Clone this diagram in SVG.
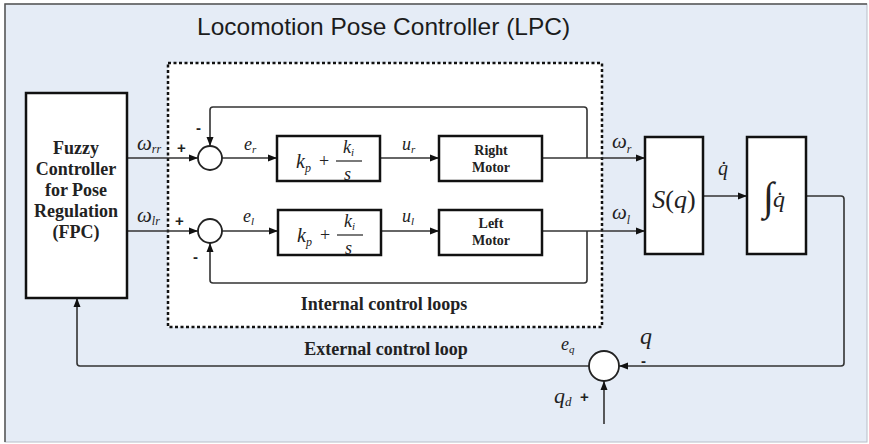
<svg xmlns="http://www.w3.org/2000/svg" width="869" height="444" viewBox="0 0 869 444">
<defs>
<marker id="arr" markerWidth="10" markerHeight="8" refX="9" refY="4" orient="auto" markerUnits="userSpaceOnUse">
<path d="M0,0.5 L9,4 L0,7.5 Z" fill="#111"/>
</marker>
<style>
.blk{fill:#fff;stroke:#111;stroke-width:2.5}
.sum{fill:#fff;stroke:#222;stroke-width:1.8}
.ln{fill:none;stroke:#333;stroke-width:1.6;stroke-linejoin:round}
.title{font-family:"Liberation Sans",Arial,sans-serif;font-size:24.5px;fill:#1c1c1c}
.bt{font-family:"Liberation Serif","Times New Roman",serif;font-weight:bold;fill:#222}
.m{font-family:"Liberation Serif","Times New Roman",serif;font-style:italic;fill:#222}
.r{font-family:"Liberation Serif","Times New Roman",serif;fill:#222}
.sg{font-family:"Liberation Sans",Arial,sans-serif;font-weight:bold;font-size:15px;fill:#222}
</style>
</defs>
<rect x="5" y="4" width="862" height="438" fill="#e5ecf6" stroke="#b8bec8" stroke-width="1"/>
<path d="M5,442 L5,4 L867,4" fill="none" stroke="#555" stroke-width="1.5"/>
<text class="title" x="197" y="35">Locomotion Pose Controller (LPC)</text>

<g id="lpc-box">
<rect x="168" y="63" width="434" height="264" fill="#fff" stroke="#111" stroke-width="2.5" stroke-dasharray="3,2.5"/>
<text class="bt" x="384" y="310" font-size="18" text-anchor="middle">Internal control loops</text>
</g>

<g id="connectors">
<path class="ln" d="M127,158 L198,158" marker-end="url(#arr)"/>
<path class="ln" d="M127,231 L198,231" marker-end="url(#arr)"/>
<path class="ln" d="M222,158 L277,158" marker-end="url(#arr)"/>
<path class="ln" d="M222,231 L278,231" marker-end="url(#arr)"/>
<path class="ln" d="M380,158 L439,158" marker-end="url(#arr)"/>
<path class="ln" d="M381,231 L439,231" marker-end="url(#arr)"/>
<path class="ln" d="M542,158 L645,158" marker-end="url(#arr)"/>
<path class="ln" d="M542,231 L645,231" marker-end="url(#arr)"/>
<path class="ln" d="M587,158 L587,110 Q587,107 584,107 L213,107 Q210,107 210,110 L210,146" marker-end="url(#arr)"/>
<path class="ln" d="M587,231 L587,280 Q587,283 584,283 L213,283 Q210,283 210,280 L210,243" marker-end="url(#arr)"/>
<path class="ln" d="M703,196 L747,196" marker-end="url(#arr)"/>
<path class="ln" d="M806,196 L841,196 Q844,196 844,199 L844,363 Q844,366 841,366 L619,366" marker-end="url(#arr)"/>
<path class="ln" d="M604,424 L604,381" marker-end="url(#arr)"/>
<path class="ln" d="M589,366 L80,366 Q77,366 77,363 L77,298" marker-end="url(#arr)"/>
</g>

<g id="fpc">
<rect class="blk" x="26" y="93" width="101" height="205"/>
<text class="bt" font-size="18" text-anchor="middle" x="76"><tspan x="76" y="154">Fuzzy</tspan><tspan x="76" y="175">Controller</tspan><tspan x="76" y="196">for Pose</tspan><tspan x="76" y="217">Regulation</tspan><tspan x="76" y="238">(FPC)</tspan></text>
</g>

<g id="sum-r">
<circle class="sum" cx="210" cy="158" r="12"/>
</g>
<g id="sum-l">
<circle class="sum" cx="210" cy="231" r="12"/>
</g>

<g id="pi-r">
<rect class="blk" x="277" y="136" width="103" height="45"/>
<text class="m" x="296" y="168" font-size="20">k<tspan font-size="12" dy="4">p</tspan></text>
<text class="r" x="319" y="167" font-size="18">+</text>
<text class="m" x="343" y="153" font-size="18">k<tspan font-size="11" dy="3">i</tspan></text>
<line x1="336" y1="161" x2="362" y2="161" stroke="#222" stroke-width="1.2"/>
<text class="m" x="344" y="180" font-size="18">s</text>
</g>
<g id="pi-l">
<rect class="blk" x="278" y="210" width="103" height="45"/>
<text class="m" x="297" y="242" font-size="20">k<tspan font-size="12" dy="4">p</tspan></text>
<text class="r" x="320" y="241" font-size="18">+</text>
<text class="m" x="344" y="227" font-size="18">k<tspan font-size="11" dy="3">i</tspan></text>
<line x1="337" y1="235" x2="363" y2="235" stroke="#222" stroke-width="1.2"/>
<text class="m" x="345" y="254" font-size="18">s</text>
</g>

<g id="right-motor">
<rect class="blk" x="439" y="136" width="103" height="45"/>
<text class="bt" font-size="14" text-anchor="middle" x="491"><tspan x="491" y="155">Right</tspan><tspan x="491" y="172">Motor</tspan></text>
</g>
<g id="left-motor">
<rect class="blk" x="439" y="210" width="103" height="45"/>
<text class="bt" font-size="14" text-anchor="middle" x="491"><tspan x="491" y="228">Left</tspan><tspan x="491" y="245">Motor</tspan></text>
</g>

<g id="sq">
<rect class="blk" x="645" y="137" width="58" height="117"/>
<text class="r" x="674" y="208" font-size="26" text-anchor="middle"><tspan class="m">S</tspan>(<tspan class="m">q</tspan>)</text>
</g>
<g id="integrator">
<rect class="blk" x="747" y="137" width="59" height="117"/>
<text class="m" x="763" y="210" font-size="40">∫</text>
<text class="m" x="773" y="207" font-size="24">q&#x307;</text>
</g>

<g id="sum-q">
<circle class="sum" cx="604" cy="366" r="15"/>
</g>

<g id="labels">
<text class="m" x="137" y="150" font-size="21">ω<tspan font-size="12" dy="3">rr</tspan></text>
<text class="m" x="137" y="222" font-size="21">ω<tspan font-size="12" dy="3">lr</tspan></text>
<text class="sg" x="177" y="153">+</text>
<text class="sg" x="175" y="226">+</text>
<text class="sg" x="196" y="133">-</text>
<text class="sg" x="193" y="262">-</text>
<text class="m" x="244" y="150" font-size="18">e<tspan font-size="11" dy="3">r</tspan></text>
<text class="m" x="243" y="222" font-size="18">e<tspan font-size="11" dy="3">l</tspan></text>
<text class="m" x="402" y="150" font-size="18">u<tspan font-size="11" dy="3">r</tspan></text>
<text class="m" x="402" y="222" font-size="18">u<tspan font-size="11" dy="3">l</tspan></text>
<text class="m" x="612" y="148" font-size="21">ω<tspan font-size="12" dy="5">r</tspan></text>
<text class="m" x="612" y="219" font-size="21">ω<tspan font-size="12" dy="5">l</tspan></text>
<text class="m" x="718" y="175" font-size="20">q&#x307;</text>
<text class="bt" x="386" y="355" font-size="18" text-anchor="middle">External control loop</text>
<text class="m" x="561" y="350" font-size="18">e<tspan font-size="11" dy="3">q</tspan></text>
<text class="m" x="640" y="344" font-size="24">q</text>
<text class="sg" x="641" y="366">-</text>
<text class="m" x="554" y="403" font-size="22">q<tspan font-size="13" dy="3">d</tspan></text>
<text class="sg" x="580" y="402">+</text>
</g>
</svg>
